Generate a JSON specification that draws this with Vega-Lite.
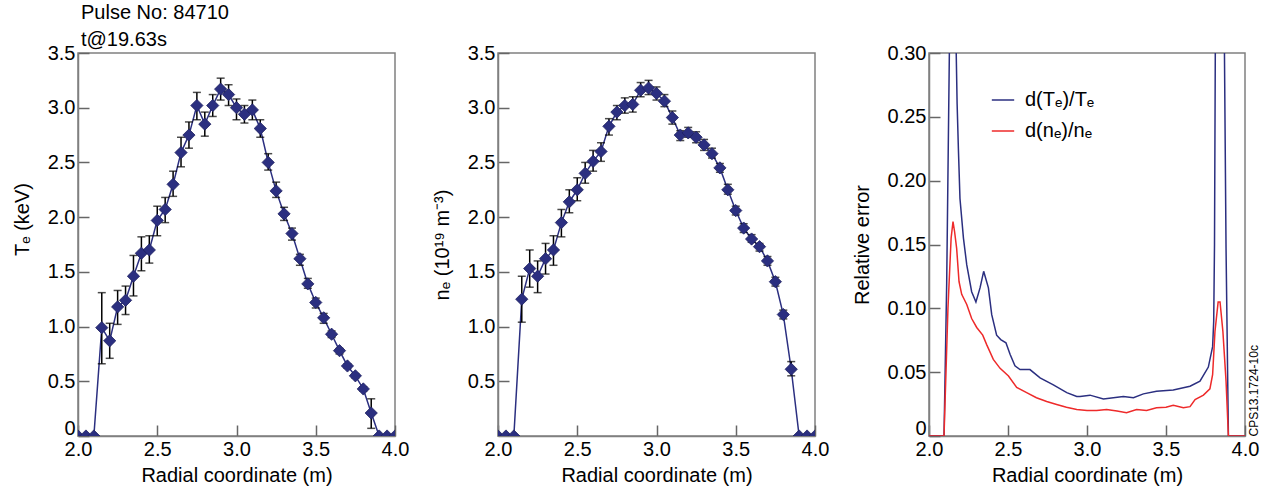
{
  "$schema": "https://vega.github.io/schema/vega-lite/v6.json",
  "padding": {"left": 11, "top": 2, "right": 2, "bottom": 2},
  "background": "white",
  "spacing": 21,
  "resolve": {"legend": {"color": "independent"}},
  "datasets": {
    "te": [
      {"r": 2.00, "v": 0}, {"r": 2.05, "v": 0}, {"r": 2.10, "v": 0},
      {"r": 2.15, "v": 0.99, "lo": 0.66, "hi": 1.31},
      {"r": 2.20, "v": 0.87, "lo": 0.71, "hi": 1.03},
      {"r": 2.25, "v": 1.18, "lo": 1.02, "hi": 1.33},
      {"r": 2.30, "v": 1.24, "lo": 1.11, "hi": 1.37},
      {"r": 2.35, "v": 1.46, "lo": 1.28, "hi": 1.65},
      {"r": 2.40, "v": 1.67, "lo": 1.51, "hi": 1.82},
      {"r": 2.45, "v": 1.70, "lo": 1.58, "hi": 1.83},
      {"r": 2.50, "v": 1.97, "lo": 1.83, "hi": 2.10},
      {"r": 2.55, "v": 2.07, "lo": 1.95, "hi": 2.18},
      {"r": 2.60, "v": 2.30, "lo": 2.19, "hi": 2.42},
      {"r": 2.65, "v": 2.59, "lo": 2.46, "hi": 2.73},
      {"r": 2.70, "v": 2.75, "lo": 2.63, "hi": 2.87},
      {"r": 2.75, "v": 3.02, "lo": 2.89, "hi": 3.14},
      {"r": 2.80, "v": 2.85, "lo": 2.74, "hi": 2.96},
      {"r": 2.85, "v": 3.02, "lo": 2.92, "hi": 3.12},
      {"r": 2.90, "v": 3.17, "lo": 3.07, "hi": 3.27},
      {"r": 2.95, "v": 3.12, "lo": 3.02, "hi": 3.21},
      {"r": 3.00, "v": 3.00, "lo": 2.89, "hi": 3.08},
      {"r": 3.05, "v": 2.94, "lo": 2.86, "hi": 3.02},
      {"r": 3.10, "v": 2.98, "lo": 2.89, "hi": 3.07},
      {"r": 3.15, "v": 2.81, "lo": 2.73, "hi": 2.89},
      {"r": 3.20, "v": 2.50, "lo": 2.43, "hi": 2.58},
      {"r": 3.25, "v": 2.24, "lo": 2.18, "hi": 2.32},
      {"r": 3.30, "v": 2.03, "lo": 1.97, "hi": 2.09},
      {"r": 3.35, "v": 1.85, "lo": 1.79, "hi": 1.90},
      {"r": 3.40, "v": 1.62, "lo": 1.56, "hi": 1.66},
      {"r": 3.45, "v": 1.39, "lo": 1.35, "hi": 1.44},
      {"r": 3.50, "v": 1.22, "lo": 1.17, "hi": 1.26},
      {"r": 3.55, "v": 1.08, "lo": 1.03, "hi": 1.12},
      {"r": 3.60, "v": 0.93, "lo": 0.90, "hi": 0.96},
      {"r": 3.65, "v": 0.78, "lo": 0.75, "hi": 0.80},
      {"r": 3.70, "v": 0.64, "lo": 0.62, "hi": 0.66},
      {"r": 3.75, "v": 0.55, "lo": 0.53, "hi": 0.57},
      {"r": 3.80, "v": 0.43, "lo": 0.41, "hi": 0.45},
      {"r": 3.85, "v": 0.21, "lo": 0.07, "hi": 0.34},
      {"r": 3.90, "v": 0}, {"r": 3.95, "v": 0}, {"r": 4.00, "v": 0}
    ],
    "ne": [
      {"r": 2.00, "v": 0}, {"r": 2.05, "v": 0}, {"r": 2.10, "v": 0},
      {"r": 2.15, "v": 1.25, "lo": 1.04, "hi": 1.46},
      {"r": 2.20, "v": 1.53, "lo": 1.36, "hi": 1.70},
      {"r": 2.25, "v": 1.46, "lo": 1.31, "hi": 1.60},
      {"r": 2.30, "v": 1.62, "lo": 1.48, "hi": 1.76},
      {"r": 2.35, "v": 1.70, "lo": 1.56, "hi": 1.83},
      {"r": 2.40, "v": 1.95, "lo": 1.82, "hi": 2.07},
      {"r": 2.45, "v": 2.14, "lo": 2.04, "hi": 2.25},
      {"r": 2.50, "v": 2.25, "lo": 2.15, "hi": 2.36},
      {"r": 2.55, "v": 2.40, "lo": 2.31, "hi": 2.50},
      {"r": 2.60, "v": 2.51, "lo": 2.42, "hi": 2.61},
      {"r": 2.65, "v": 2.60, "lo": 2.51, "hi": 2.68},
      {"r": 2.70, "v": 2.83, "lo": 2.75, "hi": 2.90},
      {"r": 2.75, "v": 2.96, "lo": 2.89, "hi": 3.02},
      {"r": 2.80, "v": 3.02, "lo": 2.95, "hi": 3.09},
      {"r": 2.85, "v": 3.03, "lo": 2.96, "hi": 3.10},
      {"r": 2.90, "v": 3.16, "lo": 3.10, "hi": 3.23},
      {"r": 2.95, "v": 3.18, "lo": 3.12, "hi": 3.25},
      {"r": 3.00, "v": 3.13, "lo": 3.07, "hi": 3.19},
      {"r": 3.05, "v": 3.06, "lo": 3.01, "hi": 3.12},
      {"r": 3.10, "v": 2.91, "lo": 2.85, "hi": 2.97},
      {"r": 3.15, "v": 2.75, "lo": 2.70, "hi": 2.79},
      {"r": 3.20, "v": 2.77, "lo": 2.73, "hi": 2.82},
      {"r": 3.25, "v": 2.73, "lo": 2.68, "hi": 2.78},
      {"r": 3.30, "v": 2.66, "lo": 2.61, "hi": 2.71},
      {"r": 3.35, "v": 2.58, "lo": 2.54, "hi": 2.63},
      {"r": 3.40, "v": 2.45, "lo": 2.41, "hi": 2.49},
      {"r": 3.45, "v": 2.25, "lo": 2.21, "hi": 2.30},
      {"r": 3.50, "v": 2.06, "lo": 2.02, "hi": 2.10},
      {"r": 3.55, "v": 1.90, "lo": 1.86, "hi": 1.94},
      {"r": 3.60, "v": 1.80, "lo": 1.77, "hi": 1.84},
      {"r": 3.65, "v": 1.73, "lo": 1.69, "hi": 1.76},
      {"r": 3.70, "v": 1.60, "lo": 1.56, "hi": 1.64},
      {"r": 3.75, "v": 1.41, "lo": 1.37, "hi": 1.45},
      {"r": 3.80, "v": 1.11, "lo": 1.07, "hi": 1.15},
      {"r": 3.85, "v": 0.61, "lo": 0.55, "hi": 0.68},
      {"r": 3.90, "v": 0}, {"r": 3.95, "v": 0}, {"r": 4.00, "v": 0}
    ],
    "err": [
      {"s": "d(Tₑ)/Tₑ", "r": 2.000, "v": 0},
      {"s": "d(Tₑ)/Tₑ", "r": 2.095, "v": 0},
      {"s": "d(Tₑ)/Tₑ", "r": 2.112, "v": 0.12},
      {"s": "d(Tₑ)/Tₑ", "r": 2.127, "v": 0.28},
      {"s": "d(Tₑ)/Tₑ", "r": 2.140, "v": 0.42},
      {"s": "d(Tₑ)/Tₑ", "r": 2.155, "v": 0.45},
      {"s": "d(Tₑ)/Tₑ", "r": 2.168, "v": 0.33},
      {"s": "d(Tₑ)/Tₑ", "r": 2.178, "v": 0.26},
      {"s": "d(Tₑ)/Tₑ", "r": 2.186, "v": 0.225},
      {"s": "d(Tₑ)/Tₑ", "r": 2.196, "v": 0.186},
      {"s": "d(Tₑ)/Tₑ", "r": 2.218, "v": 0.155},
      {"s": "d(Tₑ)/Tₑ", "r": 2.239, "v": 0.134},
      {"s": "d(Tₑ)/Tₑ", "r": 2.270, "v": 0.113},
      {"s": "d(Tₑ)/Tₑ", "r": 2.297, "v": 0.105},
      {"s": "d(Tₑ)/Tₑ", "r": 2.323, "v": 0.116},
      {"s": "d(Tₑ)/Tₑ", "r": 2.346, "v": 0.129},
      {"s": "d(Tₑ)/Tₑ", "r": 2.376, "v": 0.116},
      {"s": "d(Tₑ)/Tₑ", "r": 2.397, "v": 0.095},
      {"s": "d(Tₑ)/Tₑ", "r": 2.428, "v": 0.079},
      {"s": "d(Tₑ)/Tₑ", "r": 2.454, "v": 0.0755},
      {"s": "d(Tₑ)/Tₑ", "r": 2.487, "v": 0.073},
      {"s": "d(Tₑ)/Tₑ", "r": 2.513, "v": 0.064},
      {"s": "d(Tₑ)/Tₑ", "r": 2.544, "v": 0.055},
      {"s": "d(Tₑ)/Tₑ", "r": 2.576, "v": 0.052},
      {"s": "d(Tₑ)/Tₑ", "r": 2.639, "v": 0.052},
      {"s": "d(Tₑ)/Tₑ", "r": 2.703, "v": 0.0455},
      {"s": "d(Tₑ)/Tₑ", "r": 2.787, "v": 0.040},
      {"s": "d(Tₑ)/Tₑ", "r": 2.872, "v": 0.034},
      {"s": "d(Tₑ)/Tₑ", "r": 2.935, "v": 0.031},
      {"s": "d(Tₑ)/Tₑ", "r": 2.956, "v": 0.031},
      {"s": "d(Tₑ)/Tₑ", "r": 3.019, "v": 0.032},
      {"s": "d(Tₑ)/Tₑ", "r": 3.104, "v": 0.029},
      {"s": "d(Tₑ)/Tₑ", "r": 3.230, "v": 0.031},
      {"s": "d(Tₑ)/Tₑ", "r": 3.294, "v": 0.030},
      {"s": "d(Tₑ)/Tₑ", "r": 3.357, "v": 0.033},
      {"s": "d(Tₑ)/Tₑ", "r": 3.440, "v": 0.035},
      {"s": "d(Tₑ)/Tₑ", "r": 3.546, "v": 0.036},
      {"s": "d(Tₑ)/Tₑ", "r": 3.652, "v": 0.039},
      {"s": "d(Tₑ)/Tₑ", "r": 3.715, "v": 0.043},
      {"s": "d(Tₑ)/Tₑ", "r": 3.768, "v": 0.054},
      {"s": "d(Tₑ)/Tₑ", "r": 3.795, "v": 0.070},
      {"s": "d(Tₑ)/Tₑ", "r": 3.802, "v": 0.090},
      {"s": "d(Tₑ)/Tₑ", "r": 3.807, "v": 0.15},
      {"s": "d(Tₑ)/Tₑ", "r": 3.812, "v": 0.30},
      {"s": "d(Tₑ)/Tₑ", "r": 3.825, "v": 0.45},
      {"s": "d(Tₑ)/Tₑ", "r": 3.850, "v": 0.50},
      {"s": "d(Tₑ)/Tₑ", "r": 3.865, "v": 0.36},
      {"s": "d(Tₑ)/Tₑ", "r": 3.870, "v": 0.30},
      {"s": "d(Tₑ)/Tₑ", "r": 3.880, "v": 0.147},
      {"s": "d(Tₑ)/Tₑ", "r": 3.895, "v": 0},
      {"s": "d(Tₑ)/Tₑ", "r": 4.000, "v": 0},
      {"s": "d(nₑ)/nₑ", "r": 2.000, "v": 0},
      {"s": "d(nₑ)/nₑ", "r": 2.095, "v": 0},
      {"s": "d(nₑ)/nₑ", "r": 2.120, "v": 0.10},
      {"s": "d(nₑ)/nₑ", "r": 2.140, "v": 0.155},
      {"s": "d(nₑ)/nₑ", "r": 2.152, "v": 0.168},
      {"s": "d(nₑ)/nₑ", "r": 2.162, "v": 0.160},
      {"s": "d(nₑ)/nₑ", "r": 2.175, "v": 0.147},
      {"s": "d(nₑ)/nₑ", "r": 2.190, "v": 0.121},
      {"s": "d(nₑ)/nₑ", "r": 2.207, "v": 0.111},
      {"s": "d(nₑ)/nₑ", "r": 2.239, "v": 0.103},
      {"s": "d(nₑ)/nₑ", "r": 2.270, "v": 0.092},
      {"s": "d(nₑ)/nₑ", "r": 2.302, "v": 0.085},
      {"s": "d(nₑ)/nₑ", "r": 2.340, "v": 0.079},
      {"s": "d(nₑ)/nₑ", "r": 2.365, "v": 0.0716},
      {"s": "d(nₑ)/nₑ", "r": 2.407, "v": 0.060},
      {"s": "d(nₑ)/nₑ", "r": 2.450, "v": 0.053},
      {"s": "d(nₑ)/nₑ", "r": 2.503, "v": 0.047},
      {"s": "d(nₑ)/nₑ", "r": 2.555, "v": 0.038},
      {"s": "d(nₑ)/nₑ", "r": 2.618, "v": 0.034},
      {"s": "d(nₑ)/nₑ", "r": 2.680, "v": 0.030},
      {"s": "d(nₑ)/nₑ", "r": 2.745, "v": 0.027},
      {"s": "d(nₑ)/nₑ", "r": 2.808, "v": 0.0247},
      {"s": "d(nₑ)/nₑ", "r": 2.870, "v": 0.0225},
      {"s": "d(nₑ)/nₑ", "r": 2.935, "v": 0.0208},
      {"s": "d(nₑ)/nₑ", "r": 3.000, "v": 0.020},
      {"s": "d(nₑ)/nₑ", "r": 3.061, "v": 0.020},
      {"s": "d(nₑ)/nₑ", "r": 3.124, "v": 0.0208},
      {"s": "d(nₑ)/nₑ", "r": 3.190, "v": 0.0195},
      {"s": "d(nₑ)/nₑ", "r": 3.250, "v": 0.0182},
      {"s": "d(nₑ)/nₑ", "r": 3.314, "v": 0.0208},
      {"s": "d(nₑ)/nₑ", "r": 3.377, "v": 0.020},
      {"s": "d(nₑ)/nₑ", "r": 3.440, "v": 0.0221},
      {"s": "d(nₑ)/nₑ", "r": 3.500, "v": 0.0225},
      {"s": "d(nₑ)/nₑ", "r": 3.546, "v": 0.024},
      {"s": "d(nₑ)/nₑ", "r": 3.610, "v": 0.0221},
      {"s": "d(nₑ)/nₑ", "r": 3.652, "v": 0.023},
      {"s": "d(nₑ)/nₑ", "r": 3.684, "v": 0.0286},
      {"s": "d(nₑ)/nₑ", "r": 3.737, "v": 0.032},
      {"s": "d(nₑ)/nₑ", "r": 3.778, "v": 0.037},
      {"s": "d(nₑ)/nₑ", "r": 3.795, "v": 0.048},
      {"s": "d(nₑ)/nₑ", "r": 3.810, "v": 0.082},
      {"s": "d(nₑ)/nₑ", "r": 3.830, "v": 0.105},
      {"s": "d(nₑ)/nₑ", "r": 3.842, "v": 0.105},
      {"s": "d(nₑ)/nₑ", "r": 3.860, "v": 0.082},
      {"s": "d(nₑ)/nₑ", "r": 3.880, "v": 0.043},
      {"s": "d(nₑ)/nₑ", "r": 3.895, "v": 0},
      {"s": "d(nₑ)/nₑ", "r": 4.000, "v": 0}
    ]
  },
  "hconcat": [
    {
      "width": 317, "height": 383,
      "title": {"text": ["Pulse No: 84710", "t@19.63s"], "anchor": "start", "frame": "group", "fontSize": 20, "font": "Liberation Sans", "fontWeight": "normal", "color": "black", "lineHeight": 27, "offset": -7, "dx": 3},
      "data": {"name": "te"},
      "layer": [
        {"mark": {"type": "line", "color": "#2B2F80", "strokeWidth": 1.5, "clip": true},
         "encoding": {
           "x": {"field": "r", "type": "quantitative", "scale": {"domain": [2, 4], "nice": false, "zero": false},
                 "axis": {"title": "Radial coordinate (m)", "values": [2, 2.5, 3, 3.5, 4], "format": ".1f"}},
           "y": {"field": "v", "type": "quantitative", "scale": {"domain": [0, 3.5], "nice": false},
                 "axis": {"title": "Tₑ (keV)", "values": [0, 0.5, 1, 1.5, 2, 2.5, 3, 3.5], "labelExpr": "datum.value == 0 ? '0' : format(datum.value, '.1f')", "titleY": 166,
                          "labelOffset": {"condition": {"test": "datum.value == 0", "value": -8}, "value": 0}}}
         }},
        {"mark": {"type": "rule", "color": "black", "strokeWidth": 1.5},
         "encoding": {"x": {"field": "r", "type": "quantitative"}, "y": {"field": "lo", "type": "quantitative"}, "y2": {"field": "hi"}}},
        {"mark": {"type": "tick", "orient": "horizontal", "color": "black", "size": 8, "thickness": 1.5},
         "encoding": {"x": {"field": "r", "type": "quantitative"}, "y": {"field": "lo", "type": "quantitative"}}},
        {"mark": {"type": "tick", "orient": "horizontal", "color": "black", "size": 8, "thickness": 1.5},
         "encoding": {"x": {"field": "r", "type": "quantitative"}, "y": {"field": "hi", "type": "quantitative"}}},
        {"mark": {"type": "point", "shape": "diamond", "filled": true, "size": 150, "color": "#2B2F80", "opacity": 1, "stroke": "#1E2160", "strokeWidth": 0.8, "clip": true},
         "encoding": {"x": {"field": "r", "type": "quantitative"}, "y": {"field": "v", "type": "quantitative"}}}
      ]
    },
    {
      "width": 317, "height": 383,
      "data": {"name": "ne"},
      "layer": [
        {"mark": {"type": "line", "color": "#2B2F80", "strokeWidth": 1.5, "clip": true},
         "encoding": {
           "x": {"field": "r", "type": "quantitative", "scale": {"domain": [2, 4], "nice": false, "zero": false},
                 "axis": {"title": "Radial coordinate (m)", "values": [2, 2.5, 3, 3.5, 4], "format": ".1f"}},
           "y": {"field": "v", "type": "quantitative", "scale": {"domain": [0, 3.5], "nice": false},
                 "axis": {"title": "nₑ (10¹⁹ m⁻³)", "values": [0.5, 1, 1.5, 2, 2.5, 3, 3.5], "format": ".1f"}}
         }},
        {"mark": {"type": "rule", "color": "black", "strokeWidth": 1.5},
         "encoding": {"x": {"field": "r", "type": "quantitative"}, "y": {"field": "lo", "type": "quantitative"}, "y2": {"field": "hi"}}},
        {"mark": {"type": "tick", "orient": "horizontal", "color": "black", "size": 8, "thickness": 1.5},
         "encoding": {"x": {"field": "r", "type": "quantitative"}, "y": {"field": "lo", "type": "quantitative"}}},
        {"mark": {"type": "tick", "orient": "horizontal", "color": "black", "size": 8, "thickness": 1.5},
         "encoding": {"x": {"field": "r", "type": "quantitative"}, "y": {"field": "hi", "type": "quantitative"}}},
        {"mark": {"type": "point", "shape": "diamond", "filled": true, "size": 150, "color": "#2B2F80", "opacity": 1, "stroke": "#1E2160", "strokeWidth": 0.8, "clip": true},
         "encoding": {"x": {"field": "r", "type": "quantitative"}, "y": {"field": "v", "type": "quantitative"}}}
      ]
    },
    {
      "width": 316, "height": 383,
      "data": {"name": "err"},
      "layer": [
        {"mark": {"type": "line", "strokeWidth": 1.5, "clip": true},
         "encoding": {
           "x": {"field": "r", "type": "quantitative", "scale": {"domain": [2, 4], "nice": false, "zero": false},
                 "axis": {"title": "Radial coordinate (m)", "values": [2, 2.5, 3, 3.5, 4], "format": ".1f"}},
           "y": {"field": "v", "type": "quantitative", "scale": {"domain": [0, 0.3], "nice": false},
                 "axis": {"title": "Relative error", "values": [0, 0.05, 0.1, 0.15, 0.2, 0.25, 0.3], "labelExpr": "datum.value == 0 ? '0' : format(datum.value, '.2f')",
                          "labelOffset": {"condition": {"test": "datum.value == 0", "value": -8}, "value": 0}}},
           "color": {"field": "s", "type": "nominal", "sort": ["d(Tₑ)/Tₑ", "d(nₑ)/nₑ"],
                     "scale": {"domain": ["d(Tₑ)/Tₑ", "d(nₑ)/nₑ"], "range": ["#2B2F80", "#EE2A2A"]},
                     "legend": {"title": null, "orient": "none", "legendX": 62, "legendY": 35, "padding": 0, "symbolType": "stroke", "symbolSize": 500, "symbolStrokeWidth": 1.5, "labelFontSize": 20, "labelFont": "Liberation Sans", "labelColor": "black", "labelOffset": 10, "rowPadding": 9}}
         }},
        {"mark": {"type": "rule", "opacity": 0},
         "encoding": {"y": {"datum": 0, "type": "quantitative",
                            "axis": {"orient": "right", "title": "CPS13.1724-10c", "titleFontSize": 12, "titleAngle": 270, "titleAnchor": "start", "titleAlign": "left", "titleBaseline": "top", "titlePadding": 3, "labels": false, "ticks": false, "domain": false}}}}
      ],
      "resolve": {"axis": {"y": "independent"}}
    }
  ],
  "config": {
    "font": "Liberation Sans",
    "view": {"stroke": "#808080", "strokeWidth": 1.5},
    "axis": {"labelFont": "Liberation Sans", "labelFontSize": 20, "labelColor": "black", "titleFont": "Liberation Sans", "titleFontSize": 20, "titleFontWeight": "normal", "titleColor": "black",
             "domainColor": "#808080", "domainWidth": 1.5, "tickColor": "#666666", "tickWidth": 1.5, "tickSize": -11, "grid": false, "labelPadding": 14, "labelFlush": false},
    "axisX": {"titlePadding": 6},
    "axisY": {"titlePadding": 15}
  }
}
